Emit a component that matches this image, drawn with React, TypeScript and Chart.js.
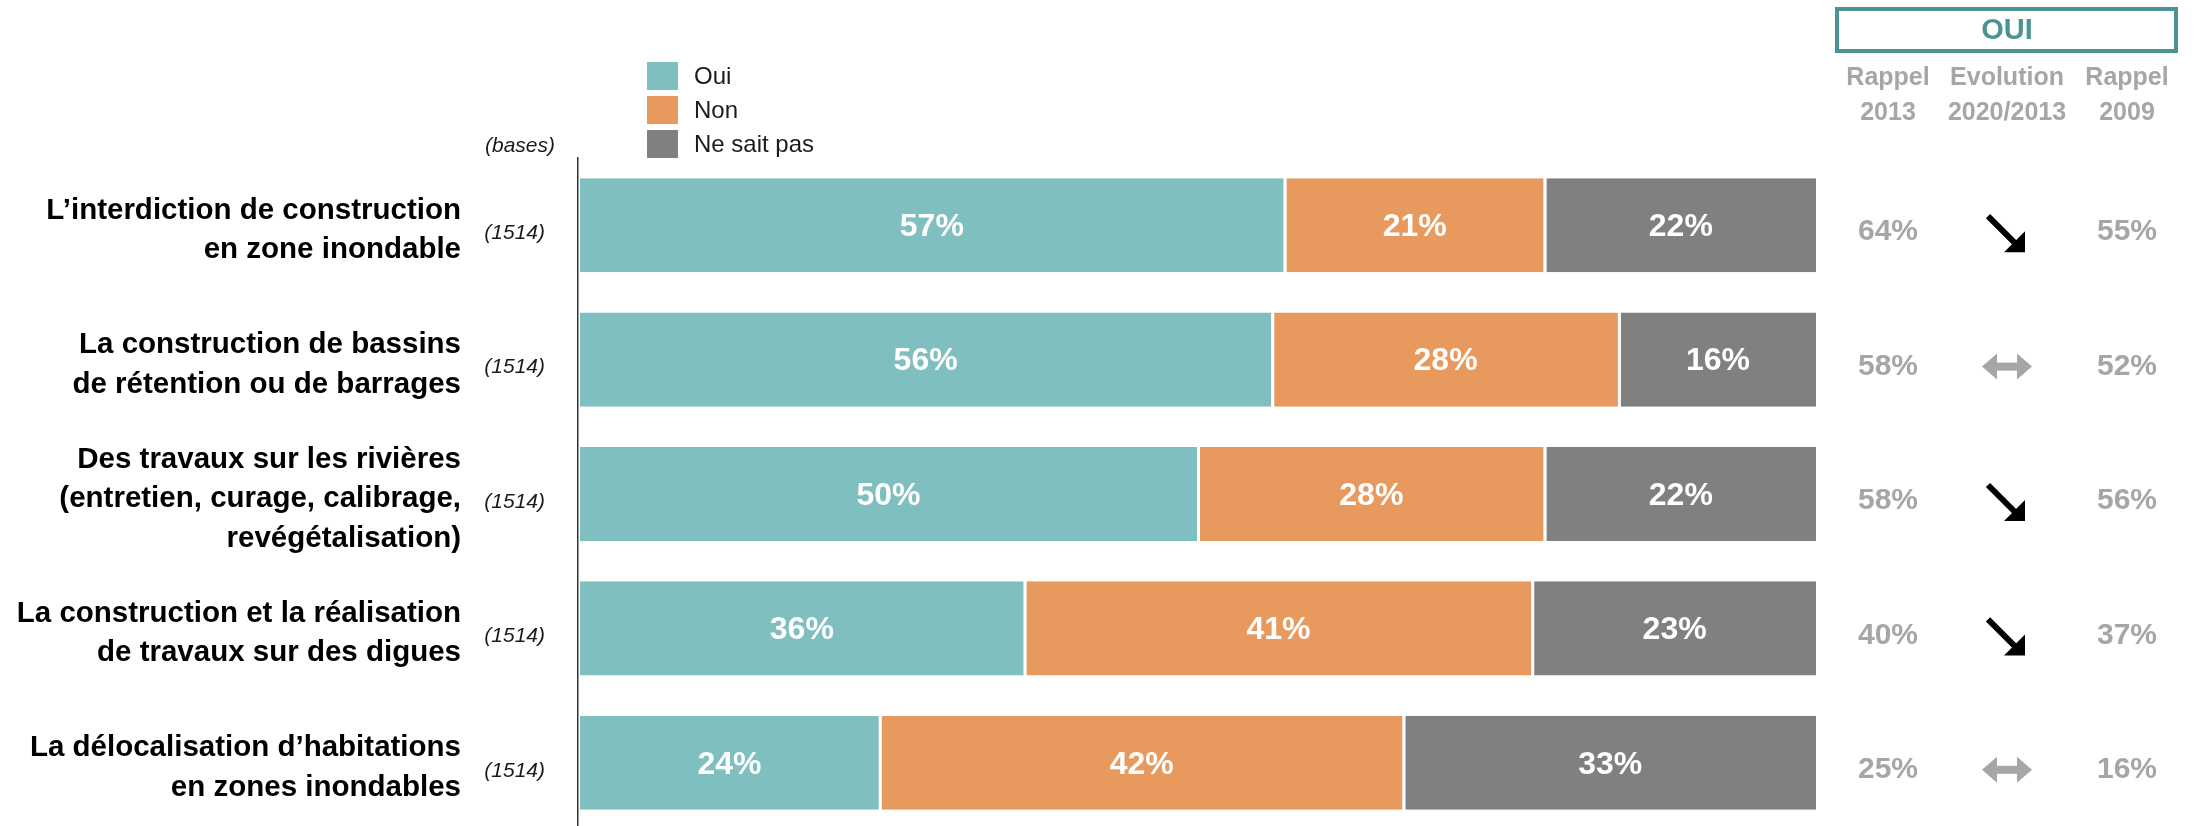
import React, { useEffect, useRef } from 'react';
import { Chart, registerables } from 'chart.js';

Chart.register(...registerables);

const categories: string[][] = [
  ['L’interdiction de construction', 'en zone inondable'],
  ['La construction de bassins', 'de rétention ou de barrages'],
  ['Des travaux sur les rivières', '(entretien, curage, calibrage,', 'revégétalisation)'],
  ['La construction et la réalisation', 'de travaux sur des digues'],
  ['La délocalisation d’habitations', 'en zones inondables'],
];
const bases = [1514, 1514, 1514, 1514, 1514];
const seriesNames = ['Oui', 'Non', 'Ne sait pas'];
const oui = [57, 56, 50, 36, 24.3];
const non = [21, 28, 28, 41, 42.3];
const nsp = [22, 16, 22, 23, 33.4];
const rappel2013 = [64, 58, 58, 40, 25];
const rappel2009 = [55, 52, 56, 37, 16];
const evolution = ['down', 'same', 'down', 'down', 'same'];
const panelTitle = 'OUI';
const panelHeaders = [['Rappel', '2013'], ['Evolution', '2020/2013'], ['Rappel', '2009']];
const basesLabel = '(bases)';

const COLORS = ['#80BFBF', '#E89A5E', '#808080'];
const GREY = '#A6A6A6';
const TEAL_DARK = '#4C9494';
const FONT = "'Liberation Sans', Arial, sans-serif";

const overlayPlugin = {
  id: 'overlay',
  afterDatasetsDraw(chart: any) {
    const ctx = chart.ctx;
    ctx.save();
    ctx.fillStyle = '#FFFFFF';
    ctx.font = `bold 32px ${FONT}`;
    ctx.textAlign = 'center';
    ctx.textBaseline = 'middle';
    chart.data.datasets.forEach((ds: any, di: number) => {
      const meta = chart.getDatasetMeta(di);
      meta.data.forEach((el: any, i: number) => {
        const v = ds.data[i];
        const cx = (el.x + el.base) / 2;
        ctx.fillText(Math.round(v) + '%', cx + 1, el.y + 2);
      });
    });
    ctx.restore();
  },
  afterDraw(chart: any) {
    const ctx = chart.ctx;
    const yScale = chart.scales.y;
    ctx.save();

    // Legend
    seriesNames.forEach((name, i) => {
      const top = 62 + i * 34;
      ctx.fillStyle = COLORS[i];
      ctx.fillRect(647, top, 31, 28);
      ctx.fillStyle = '#1a1a1a';
      ctx.font = `24px ${FONT}`;
      ctx.textAlign = 'left';
      ctx.textBaseline = 'middle';
      ctx.fillText(name, 694, top + 15);
    });

    // bases
    ctx.fillStyle = '#1a1a1a';
    ctx.font = `italic 21px ${FONT}`;
    ctx.textAlign = 'right';
    ctx.textBaseline = 'middle';
    ctx.fillText(basesLabel, 555, 146);
    bases.forEach((b, i) => {
      const y = yScale.getPixelForValue(i);
      ctx.fillText('(' + b + ')', 545, y + 8);
    });

    // Right panel title box
    ctx.strokeStyle = TEAL_DARK;
    ctx.lineWidth = 4;
    ctx.strokeRect(1837, 9, 339, 42);
    ctx.fillStyle = TEAL_DARK;
    ctx.font = `bold 29px ${FONT}`;
    ctx.textAlign = 'center';
    ctx.fillText(panelTitle, 2007, 31);

    const colX = [1888, 2007, 2127];
    ctx.fillStyle = GREY;
    ctx.font = `bold 25px ${FONT}`;
    panelHeaders.forEach((lines, c) => {
      lines.forEach((t, l) => {
        ctx.fillText(t, colX[c], 78 + l * 35);
      });
    });

    ctx.font = `bold 30px ${FONT}`;
    for (let i = 0; i < rappel2013.length; i++) {
      const y = yScale.getPixelForValue(i) + 7;
      ctx.fillStyle = GREY;
      ctx.fillText(rappel2013[i] + '%', colX[0], y);
      ctx.fillText(rappel2009[i] + '%', colX[2], y);
      const cx = colX[1];
      if (evolution[i] === 'down') {
        ctx.strokeStyle = '#000000';
        ctx.lineWidth = 6;
        ctx.beginPath();
        ctx.moveTo(cx - 19, y - 16);
        ctx.lineTo(cx + 9, y + 12);
        ctx.stroke();
        ctx.fillStyle = '#000000';
        ctx.beginPath();
        ctx.moveTo(cx + 18, y + 20);
        ctx.lineTo(cx - 3, y + 20);
        ctx.lineTo(cx + 18, y - 1);
        ctx.closePath();
        ctx.fill();
      } else {
        ctx.fillStyle = GREY;
        ctx.fillRect(cx - 11, y - 4, 22, 8);
        ctx.beginPath();
        ctx.moveTo(cx - 25, y);
        ctx.lineTo(cx - 10, y - 13);
        ctx.lineTo(cx - 10, y + 13);
        ctx.closePath();
        ctx.fill();
        ctx.beginPath();
        ctx.moveTo(cx + 25, y);
        ctx.lineTo(cx + 10, y - 13);
        ctx.lineTo(cx + 10, y + 13);
        ctx.closePath();
        ctx.fill();
      }
    }
    ctx.restore();
  },
};

export default function App() {
  const ref = useRef<HTMLCanvasElement | null>(null);
  useEffect(() => {
    if (!ref.current) return;
    const series = [oui, non, nsp];
    const chart = new Chart(ref.current, {
      type: 'bar',
      data: {
        labels: categories,
        datasets: series.map((d, i) => ({
          label: seriesNames[i],
          data: d,
          backgroundColor: COLORS[i],
          borderColor: '#FFFFFF',
          borderSkipped: false,
          borderWidth: { left: i === 0 ? 2 : 3, right: 0, top: 0, bottom: 0 },
          barPercentage: 0.7,
          categoryPercentage: 1,
        })),
      },
      options: {
        indexAxis: 'y',
        animation: false,
        responsive: true,
        maintainAspectRatio: false,
        events: [],
        layout: { padding: { top: 158, right: 383, bottom: 0, left: 0 } },
        plugins: { legend: { display: false }, tooltip: { enabled: false } },
        scales: {
          x: { stacked: true, min: 0, max: 100, display: false },
          y: {
            stacked: true,
            grid: { display: false, drawTicks: false },
            border: { display: true, color: '#333333', width: 1.5, z: 1 },
            afterFit: (scale: any) => {
              scale.width = 578;
              scale.paddingTop = 0;
              scale.paddingBottom = 0;
            },
            ticks: {
              padding: 117,
              labelOffset: 5,
              color: '#000000',
              font: { family: FONT, size: 29.5, weight: 'bold', lineHeight: 1.34 },
            },
          },
        },
      },
      plugins: [overlayPlugin],
    } as any);
    return () => chart.destroy();
  }, []);
  return (
    <div style={{ position: 'fixed', left: 0, top: 0, width: 2199, height: 826, overflow: 'hidden', background: '#fff' }}>
      <div style={{ position: 'relative', width: 2199, height: 830 }}>
        <canvas ref={ref} />
      </div>
    </div>
  );
}
